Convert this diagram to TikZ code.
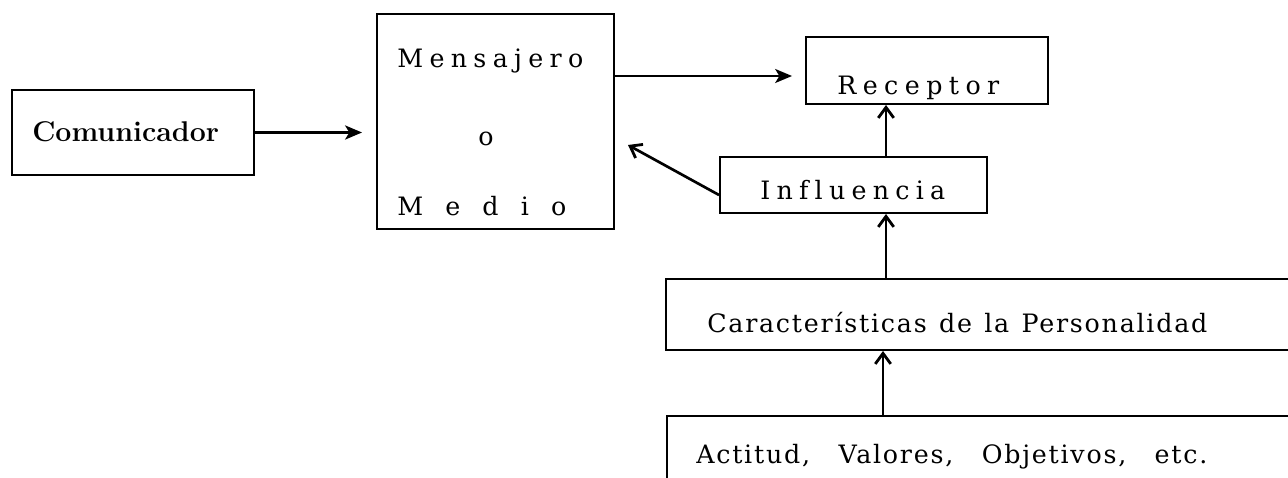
\documentclass[tikz,border=0pt]{standalone}
\usepackage{fontspec}
\newfontfamily\serifplain{DejaVu Serif}
\newfontfamily\serifwideA[LetterSpace=7]{DejaVu Serif}
\newfontfamily\serifwideB[LetterSpace=7]{DejaVu Serif}
\usetikzlibrary{arrows.meta,fit,calc}
\begin{document}
\begin{tikzpicture}[x=0.025cm,y=-0.025cm,
  box/.style={draw, line width=1.4pt, inner sep=0pt},
  txt/.style={anchor=base west, inner sep=0pt, font=\serifplain\fontsize{18}{22}\selectfont},
  cartxt/.style={anchor=base west, inner sep=0pt, font=\serifwideA\fontsize{18}{22}\selectfont},
  acttxt/.style={anchor=base west, inner sep=0pt, font=\serifwideB\fontsize{18}{22}\selectfont},
  boldtxt/.style={anchor=base west, inner sep=0pt, font=\fontsize{20.3}{24}\selectfont\bfseries},
  harrow/.style={-{Stealth[length=12pt,width=10pt,inset=3pt]}, line width=1.4pt},
  varrow/.style={-{Straight Barb[length=7.5pt,width=11pt,line width=2pt]}, line width=1.6pt}]
\useasboundingbox (0,0) rectangle (1288,478);
\clip (0,0) rectangle (1288,478);

% boxes
\node[box, fit={(12,90) (254,175)}] (com) {};
\node[box, fit={(377,14) (614,229)}] (msg) {};
\node[box, fit={(806,37) (1048,104)}] (rec) {};
\node[box, fit={(720,157) (987,213)}] (inf) {};
\node[box, fit={(666,279) (1330,350)}] (car) {};
\node[box, fit={(667,416) (1330,540)}] (act) {};

% labels
\node[boldtxt] (tcom) at (32,142) {Comunicador};
\node[txt] (tmsg) at (397,68) {\makebox[4.65cm][s]{M\hfil e\hfil n\hfil s\hfil a\hfil j\hfil e\hfil r\hfil o}};
\node[txt] (to) at (478,146) {o};
\node[txt] (tmed) at (397,216) {\makebox[4.225cm][s]{M\hfil e\hfil d\hfil i\hfil o}};
\node[txt] (trec) at (837,95) {\makebox[4.05cm][s]{R\hfil e\hfil c\hfil e\hfil p\hfil t\hfil o\hfil r}};
\node[txt] (tinf) at (760,200) {\makebox[4.625cm][s]{I\hfil n\hfil f\hfil l\hfil u\hfil e\hfil n\hfil c\hfil i\hfil a}};
\node[cartxt] (tcar) at (707,332) {\makebox[12.5cm][s]{Características de la Personalidad}};
\node[acttxt] (tact) at (696,463) {\makebox[12.775cm][s]{Actitud, Valores, Objetivos, etc.}};

% connectors
\coordinate (ax) at (886,0);
\coordinate (fb) at (628,145);
\draw[harrow, line width=2pt, shorten >=14*0.025cm] (com.east) -- (com.east -| msg.west);
\draw[harrow, shorten >=13*0.025cm] ($(msg.east |- rec.west)+(0,5.5)$) -- ($(rec.west)+(0,5.5)$);
\draw[varrow] (inf.north -| ax) -- (rec.south -| ax);
\draw[varrow, line width=1.9pt] ($(inf.west)+(0,10)$) -- (fb);
\draw[varrow] (car.north -| ax) -- (inf.south -| ax);
\draw[varrow] ($(act.north -| ax)+(-3,0)$) -- ($(car.south -| ax)+(-3,0)$);
\end{tikzpicture}
\end{document}
